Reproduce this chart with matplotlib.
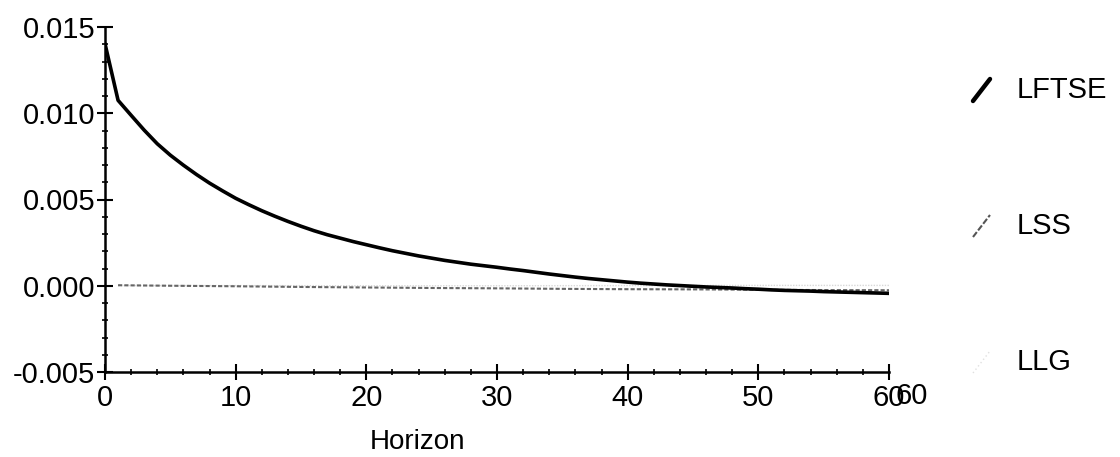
import matplotlib
matplotlib.use("Agg")
import matplotlib.pyplot as plt
from matplotlib.lines import Line2D
from matplotlib.ticker import MultipleLocator, FormatStrFormatter

plt.rcParams['font.family'] = ['Liberation Sans', 'DejaVu Sans']

# impulse responses
horizon = list(range(61))
lftse = [0.01403, 0.01075, 0.00988, 0.00902, 0.00823, 0.00757, 0.00699, 0.00645,
         0.00595, 0.00550, 0.00507, 0.00470, 0.00435, 0.00403, 0.00373, 0.00345,
         0.00319, 0.00296, 0.00276, 0.00256, 0.00238, 0.00220, 0.00203, 0.00188,
         0.00173, 0.00160, 0.00147, 0.00136, 0.00125, 0.00116, 0.00107, 0.00097,
         0.00088, 0.00078, 0.00068, 0.00059, 0.00050, 0.00042, 0.00035, 0.00028,
         0.00021, 0.00015, 0.00010, 0.00005, 0.00001, -0.00003, -0.00007, -0.00010,
         -0.00013, -0.00017, -0.00020, -0.00024, -0.00027, -0.00029, -0.00031,
         -0.00034, -0.00036, -0.00038, -0.00040, -0.00042, -0.00044]

lss_h = [1, 5, 10, 15, 20, 25, 30, 35, 40, 45, 50, 55, 60]
lss = [0.00003, 0.00000, -0.00003, -0.00007, -0.00010, -0.00013, -0.00015,
       -0.00018, -0.00020, -0.00021, -0.00023, -0.00025, -0.00026]

llg_h = [1, 10, 20, 30, 40, 50, 60]
llg = [0.00001, 0.00001, 0.00000, 0.00000, 0.00001, 0.00002, 0.00002]

legend_names = ['LFTSE', 'LSS', 'LLG']

fig = plt.figure(figsize=(11.2, 4.57), dpi=100)
ax = fig.add_axes([105/1120, 1-372/457, (889-105)/1120, (372-27)/457])

ax.plot(llg_h, llg, color='#d8d8d8', lw=1.0, ls=(0, (1, 1)))
ax.plot(lss_h, lss, color='#666666', lw=1.5, ls=(0, (2, 1)))
ax.plot(horizon, lftse, color='black', lw=2.6, solid_capstyle='round')

ax.set_xlim(0, 60)
ax.set_ylim(-0.005, 0.015)
ax.xaxis.set_major_locator(MultipleLocator(10))
ax.xaxis.set_minor_locator(MultipleLocator(2))
ax.yaxis.set_major_locator(MultipleLocator(0.005))
ax.yaxis.set_minor_locator(MultipleLocator(0.001))
ax.yaxis.set_major_formatter(FormatStrFormatter('%.3f'))

for s in ['top', 'right']:
    ax.spines[s].set_visible(False)
for s in ['left', 'bottom']:
    ax.spines[s].set_linewidth(1.8)

ax.tick_params(which='major', direction='inout', length=12, width=1.5,
               labelsize=21, pad=1)
ax.tick_params(which='minor', direction='inout', length=5, width=1.2)
ax.tick_params(axis='x', which='major', pad=3)

# the doubled "60" at the end of the axis, on the tick label baseline
ax.annotate('60', xy=(61.7, 0), xycoords=('data', 'axes fraction'),
            xytext=(0, -(6*0.72 + 3)), textcoords='offset points',
            fontsize=21, ha='center', va='top', annotation_clip=False)

fig.text(418/1120, 1-442/457, 'Horizon', fontsize=20, ha='center', va='center')

# hand-drawn legend on the right
def px(x, y):
    return x/1120, 1-y/457

styles = [dict(color='black', lw=3.2, solid_capstyle='round'),
          dict(color='#555555', lw=1.5, ls=(0, (3, 1))),
          dict(color='#e0e0e0', lw=1.0, ls=(0, (1, 2)))]
centres = [90, 226, 362]
for name, st, yc in zip(legend_names, styles, centres):
    x0, y0 = px(973, yc+11)
    x1, y1 = px(990, yc-11)
    fig.add_artist(Line2D([x0, x1], [y0, y1], transform=fig.transFigure, **st))
    fig.text(1017/1120, 1-yc/457, name, fontsize=21, ha='left', va='center')

fig.savefig('out.png', dpi=100)
